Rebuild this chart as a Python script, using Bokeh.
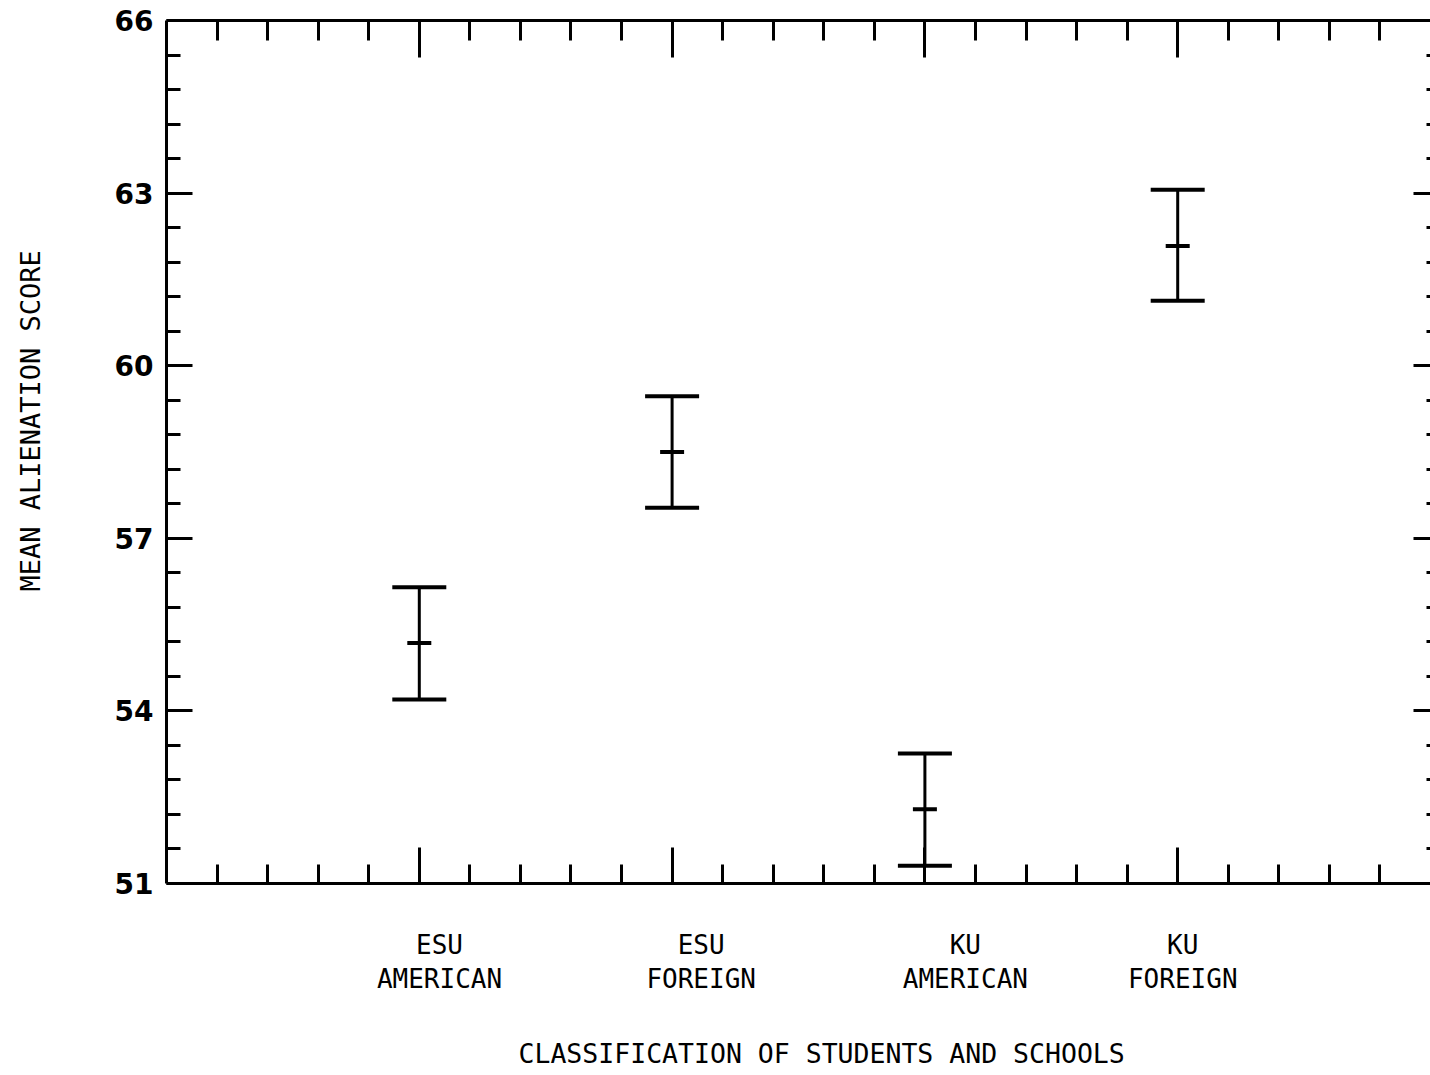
from bokeh.plotting import figure
from bokeh.models import (Range1d, FixedTicker, LinearAxis, Whisker, TeeHead,
                          ColumnDataSource, Title)
from bokeh.embed import file_html
from bokeh.resources import INLINE

# ---- data ----
group_names = ["ESU\nAMERICAN", "ESU\nFOREIGN", "KU\nAMERICAN", "KU\nFOREIGN"]
group_pos = [1, 2, 3, 4]
mean_score = [55.18, 58.50, 52.29, 62.08]
upper_score = [56.15, 59.47, 53.26, 63.06]
lower_score = [54.20, 57.53, 51.31, 61.13]
y_major_ticks = [51, 54, 57, 60, 63, 66]
x_title = "CLASSIFICATION OF STUDENTS AND SCHOOLS"
y_title = "MEAN ALIENATION SCORE"

# ---- style ----
label_dx = [0.08, 0.115, 0.16, 0.02]   # centre shift of each category label
MONO = "DejaVu Sans Mono"

p = figure(width=1430, height=1075, output_backend="svg", toolbar_location=None,
           x_range=Range1d(0, 5), y_range=Range1d(51, 66),
           x_axis_location=None, y_axis_location=None)
p.min_border_left = 166
p.min_border_top = 20
p.min_border_right = 0
p.min_border_bottom = 0
p.outline_line_color = None
p.background_fill_color = "white"
p.border_fill_color = "white"
p.xgrid.visible = False
p.ygrid.visible = False

x_minor = [round(0.2 * i, 2) for i in range(0, 26) if i % 5 != 0]
y_minor = [round(51 + 0.6 * i, 2) for i in range(0, 26) if i % 5 != 0]


def style_common(ax):
    ax.axis_line_color = "black"
    ax.axis_line_width = 3
    ax.major_tick_line_color = "black"
    ax.major_tick_line_width = 3
    ax.minor_tick_line_color = "black"
    ax.minor_tick_line_width = 3
    ax.major_tick_out = 0
    ax.minor_tick_out = 0


def blank_labels(ax, ticks):
    ax.major_label_overrides = {t: "" for t in ticks}
    ax.major_label_standoff = 0


# left axis
left = LinearAxis(ticker=FixedTicker(ticks=y_major_ticks, minor_ticks=y_minor))
style_common(left)
left.major_tick_in = 26
left.minor_tick_in = 14
left.major_label_standoff = 13
left.major_label_text_font = "DejaVu Sans"
left.major_label_text_font_style = "bold"
left.major_label_text_font_size = "28px"
left.major_label_text_color = "black"
p.add_layout(left, "left")

# right axis (ticks only)
right = LinearAxis(ticker=FixedTicker(ticks=y_major_ticks, minor_ticks=y_minor))
style_common(right)
right.axis_line_color = None
right.major_tick_in = 17
right.minor_tick_in = 4
blank_labels(right, y_major_ticks)
p.add_layout(right, "right")

# bottom axis (ticks only)
bottom = LinearAxis(ticker=FixedTicker(ticks=group_pos, minor_ticks=x_minor))
style_common(bottom)
bottom.major_tick_in = 36
bottom.minor_tick_in = 19
blank_labels(bottom, group_pos)
p.add_layout(bottom, "below")

# category label axis below
label_ticks = [x + dx for x, dx in zip(group_pos, label_dx)]
cat_axis = LinearAxis(ticker=FixedTicker(ticks=label_ticks, minor_ticks=[]))
cat_axis.axis_line_color = None
cat_axis.major_tick_line_color = None
cat_axis.major_tick_in = 0
cat_axis.major_tick_out = 0
cat_axis.major_label_overrides = {t: n for t, n in zip(label_ticks, group_names)}
cat_axis.major_label_text_font = MONO
cat_axis.major_label_text_font_size = "26px"
cat_axis.major_label_text_color = "black"
cat_axis.major_label_text_line_height = 1.15
cat_axis.major_label_standoff = 46
p.add_layout(cat_axis, "below")

# top axis (ticks only)
top = LinearAxis(ticker=FixedTicker(ticks=group_pos, minor_ticks=x_minor))
style_common(top)
top.major_tick_in = 37
top.minor_tick_in = 20
blank_labels(top, group_pos)
p.add_layout(top, "above")

# axis titles (blank lines keep the gap to the axis)
xt = Title(text="\n" + x_title, align="left", offset=352,
           text_font=MONO, text_font_size="26.5px", text_font_style="normal",
           text_color="black", standoff=14)
p.add_layout(xt, "below")
yt = Title(text=y_title + "\n\n", align="left", offset=292,
           text_font=MONO, text_font_size="27px", text_font_style="normal",
           text_color="black", standoff=8)
p.add_layout(yt, "left")

# error bars
src = ColumnDataSource(dict(x=group_pos, mean=mean_score, upper=upper_score, lower=lower_score))
w = Whisker(base="x", upper="upper", lower="lower", source=src,
            line_color="black", line_width=3,
            upper_head=TeeHead(size=54, line_width=4, line_color="black"),
            lower_head=TeeHead(size=54, line_width=4, line_color="black"))
p.add_layout(w)
p.scatter("x", "mean", source=src, marker="dash", size=24, line_width=4,
          line_color="black", fill_color="black")

open("out.html", "w").write(file_html(p, INLINE))
